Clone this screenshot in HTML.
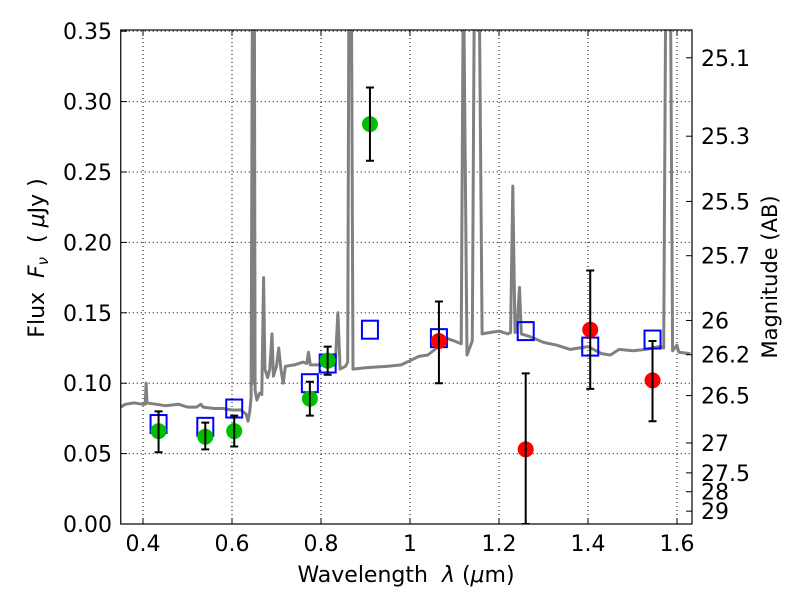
<!DOCTYPE html>
<html><head><meta charset="utf-8"><style>
body{margin:0;background:#fff}
svg text{font-family:"DejaVu Sans","Liberation Sans",sans-serif;fill:#000;white-space:pre}
</style></head><body>
<svg id="c" width="800" height="600" xmlns="http://www.w3.org/2000/svg" xml:space="preserve">
<defs><clipPath id="pc"><rect x="120.75" y="30" width="571.25" height="494"/></clipPath></defs>
<rect width="800" height="600" fill="#fff"/>
<g id="grid"></g>
<g id="spec" clip-path="url(#pc)"></g>
<g id="marks" clip-path="url(#pc)"></g>
<rect x="120.75" y="30" width="571.25" height="494" fill="none" stroke="#000" stroke-width="1.2"/>
<g id="axes"></g>
<text x="406" y="582" font-size="22" text-anchor="middle">Wavelength  <tspan font-style="italic">λ</tspan> (<tspan font-style="italic">μ</tspan>m)</text>
<text transform="translate(44,258) rotate(-90)" font-size="22" text-anchor="middle">Flux  <tspan font-style="italic">F</tspan><tspan font-style="italic" font-size="15" dy="4">ν</tspan><tspan dy="-4">  ( </tspan><tspan font-style="italic">μ</tspan>Jy )</text>
<text transform="translate(777,277) rotate(-90)" font-size="21" text-anchor="middle">Magnitude (AB)</text>
</svg>
<script>
const specLam=[0.35,0.36,0.38,0.40,0.405,0.407,0.409,0.43,0.45,0.48,0.50,0.52,0.53,0.535,0.56,0.58,0.60,0.62,0.632,0.636,0.64,0.643,0.646,0.648,0.650,0.652,0.656,0.662,0.667,0.671,0.674,0.68,0.685,0.69,0.693,0.70,0.705,0.71,0.715,0.72,0.74,0.76,0.768,0.772,0.776,0.80,0.82,0.832,0.838,0.843,0.855,0.86,0.863,0.868,0.872,0.90,0.95,0.98,1.00,1.02,1.04,1.06,1.08,1.10,1.115,1.12,1.128,1.14,1.145,1.155,1.162,1.18,1.20,1.22,1.226,1.231,1.236,1.24,1.246,1.25,1.27,1.30,1.33,1.36,1.40,1.43,1.45,1.47,1.50,1.53,1.56,1.57,1.575,1.585,1.59,1.60,1.604,1.63];
const specFlux=[0.083,0.085,0.086,0.085,0.085,0.100,0.086,0.085,0.084,0.085,0.083,0.083,0.085,0.083,0.082,0.082,0.081,0.081,0.078,0.073,0.080,0.090,0.40,0.10,0.40,0.095,0.088,0.093,0.092,0.175,0.11,0.104,0.110,0.135,0.105,0.112,0.125,0.110,0.100,0.112,0.113,0.115,0.114,0.122,0.113,0.113,0.112,0.113,0.15,0.110,0.112,0.115,0.40,0.40,0.11,0.111,0.112,0.113,0.116,0.119,0.120,0.125,0.132,0.130,0.128,0.40,0.12,0.13,0.40,0.40,0.135,0.136,0.137,0.135,0.136,0.24,0.136,0.137,0.168,0.135,0.133,0.129,0.127,0.124,0.126,0.121,0.120,0.124,0.123,0.124,0.126,0.125,0.40,0.40,0.123,0.127,0.122,0.121];
const greenLam=[0.435,0.54,0.605,0.775,0.815,0.91];
const greenFlux=[0.066,0.062,0.066,0.089,0.116,0.284];
const greenLo=[0.051,0.053,0.055,0.077,0.106,0.258];
const greenHi=[0.080,0.072,0.077,0.101,0.126,0.310];
const redLam=[1.065,1.26,1.405,1.545];
const redFlux=[0.130,0.053,0.138,0.102];
const redLo=[0.100,0.0,0.096,0.073];
const redHi=[0.158,0.107,0.180,0.130];
const boxLam=[0.435,0.54,0.605,0.775,0.815,0.91,1.065,1.26,1.405,1.545];
const boxFlux=[0.071,0.069,0.082,0.100,0.114,0.138,0.132,0.137,0.126,0.131];
const xTicks=[0.4,0.6,0.8,1.0,1.2,1.4,1.6];
const xTickLabels=["0.4","0.6","0.8","1","1.2","1.4","1.6"];
const yTicks=[0,0.05,0.10,0.15,0.20,0.25,0.30,0.35];
const yTickLabels=["0.00","0.05","0.10","0.15","0.20","0.25","0.30","0.35"];
const magTicks=[25.1,25.3,25.5,25.7,26,26.2,26.5,27,27.5,28,29];
const magTickLabels=["25.1","25.3","25.5","25.7","26","26.2","26.5","27","27.5","28","29"];

const X=l=>120.75+(l-0.35)*445;
const Y=f=>524-f*1408;
const NS="http://www.w3.org/2000/svg";
function mk(parent,tag,attrs){const e=document.createElementNS(NS,tag);for(const k in attrs)e.setAttribute(k,attrs[k]);document.getElementById(parent).appendChild(e);return e;}

xTicks.forEach((t,i)=>{
  const x=X(t);
  const g=mk('grid','line',{x1:x,x2:x,y1:30,y2:524,stroke:'#000','stroke-width':1,'stroke-dasharray':'1,3'});
  
  
  mk('axes','line',{x1:x,x2:x,y1:524,y2:518,stroke:'#000'});
  mk('axes','line',{x1:x,x2:x,y1:30,y2:36,stroke:'#000'});
  const tx=mk('axes','text',{x:x,y:551,'font-size':22,'text-anchor':'middle'});
  tx.textContent=xTickLabels[i];
  
  
});
yTicks.forEach((t,i)=>{
  const y=Y(t);
  const g=mk('grid','line',{x1:120.75,x2:692,y1:y,y2:y,stroke:'#000','stroke-width':1,'stroke-dasharray':'1,3'});
  
  
  mk('axes','line',{x1:120.75,x2:127,y1:y,y2:y,stroke:'#000'});
  const tx=mk('axes','text',{x:112,y:y+8,'font-size':22,'text-anchor':'end'});
  tx.textContent=yTickLabels[i];
  
  
});
magTicks.forEach((m,i)=>{
  const y=Y(Math.pow(10,(23.9-m)/2.5));
  mk('axes','line',{x1:686,x2:692,y1:y,y2:y,stroke:'#000'});
  const tx=mk('axes','text',{x:701,y:y+8,'font-size':22});
  tx.textContent=magTickLabels[i];
  
  
});
const pts=specLam.map((l,i)=>X(l).toFixed(1)+','+Y(specFlux[i]).toFixed(1)).join(' ');
const sp=mk('spec','polyline',{points:pts,fill:'none',stroke:'#808080','stroke-width':3,'stroke-linejoin':'round'});


boxLam.forEach((l,i)=>{
  const r=mk('marks','rect',{x:X(l)-8,y:Y(boxFlux[i])-9,width:16,height:18,fill:'none',stroke:'#0000ff','stroke-width':2});
  
  
});
function pts2(lam,fl,lo,hi,col,name){
  lam.forEach((l,i)=>{
    const x=X(l);
    const c=mk('marks','circle',{cx:x,cy:Y(fl[i]),r:8,fill:col});
    
    
    const e=mk('marks','path',{d:`M${x},${Y(lo[i])}V${Y(hi[i])}M${x-4},${Y(lo[i])}h8M${x-4},${Y(hi[i])}h8`,stroke:'#000','stroke-width':2,fill:'none'});
    
    
  });
}
pts2(greenLam,greenFlux,greenLo,greenHi,'#00bf00','hst-photometry-point');
pts2(redLam,redFlux,redLo,redHi,'#ff0000','ir-photometry-point');
</script>
</body></html>
